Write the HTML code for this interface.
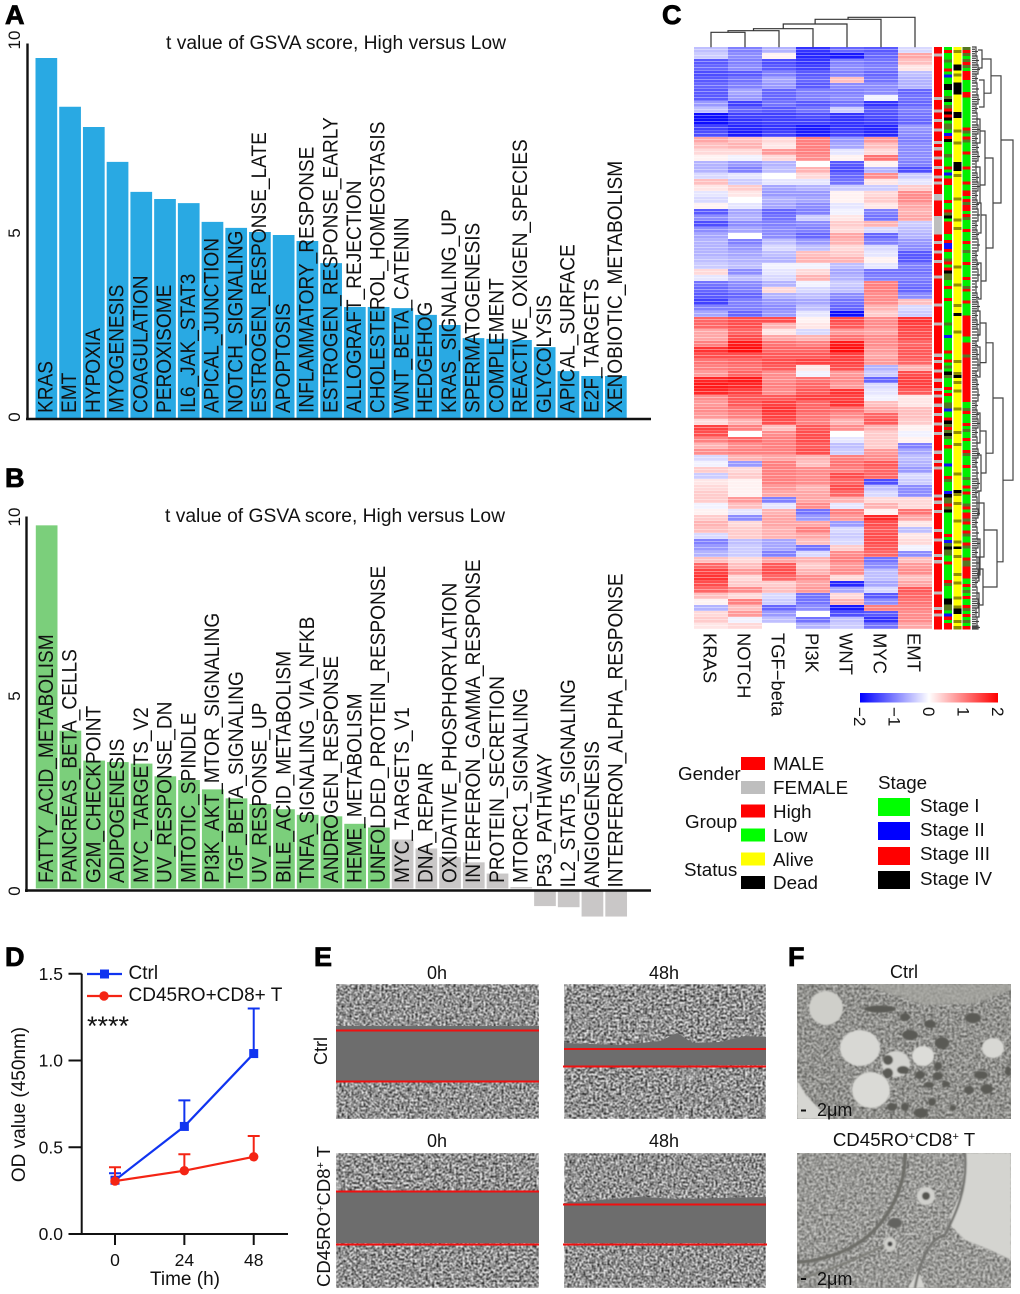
<!DOCTYPE html>
<html lang="en">
<head>
<meta charset="utf-8">
<title>GSVA panels</title>
<style>
html,body{margin:0;padding:0;background:#fff;}
svg{display:block;font-family:"Liberation Sans",sans-serif;}
text{fill:#111;}
.panel{font-size:27px;font-weight:bold;fill:#000;stroke:#000;stroke-width:.8px;}
</style>
</head>
<body>
<svg id="fig" xmlns="http://www.w3.org/2000/svg" width="1020" height="1294" viewBox="0 0 1020 1294">
<defs>
<filter id="cellsA" x="0" y="0" width="100%" height="100%" color-interpolation-filters="sRGB"><feTurbulence type="fractalNoise" baseFrequency="0.5" numOctaves="2" seed="3"/><feColorMatrix type="matrix" values="1.9 0 0 0 -0.38  1.9 0 0 0 -0.38  1.9 0 0 0 -0.38  0 0 0 0 1"/><feGaussianBlur stdDeviation="0.45"/></filter>
<filter id="cellsB" x="0" y="0" width="100%" height="100%" color-interpolation-filters="sRGB"><feTurbulence type="fractalNoise" baseFrequency="0.46" numOctaves="2" seed="11"/><feColorMatrix type="matrix" values="1.9 0 0 0 -0.38  1.9 0 0 0 -0.38  1.9 0 0 0 -0.38  0 0 0 0 1"/><feGaussianBlur stdDeviation="0.45"/></filter>
<filter id="tem" x="0" y="0" width="100%" height="100%" color-interpolation-filters="sRGB"><feTurbulence type="fractalNoise" baseFrequency="0.42" numOctaves="3" seed="5"/><feColorMatrix type="matrix" values="1.8 0 0 0 -0.34  1.8 0 0 0 -0.34  1.8 0 0 0 -0.34  0 0 0 0 1"/><feGaussianBlur stdDeviation="0.5"/></filter>
<filter id="soft" x="-5%" y="-5%" width="110%" height="110%"><feGaussianBlur stdDeviation="0.8"/></filter>
<linearGradient id="cbar" x1="0" x2="1" y1="0" y2="0"><stop offset="0" stop-color="#0000ff"/><stop offset=".48" stop-color="#f4f4ff"/><stop offset=".5" stop-color="#fff"/><stop offset=".52" stop-color="#fff4f4"/><stop offset="1" stop-color="#ff0000"/></linearGradient>
<pattern id="stripes" width="10" height="6" patternUnits="userSpaceOnUse"><rect y="1" width="10" height="1" fill="#fff" opacity=".38"/><rect y="4" width="10" height="1" fill="#fff" opacity=".22"/></pattern>
<clipPath id="clipF1"><rect x="797" y="984" width="214" height="135"/></clipPath>
<clipPath id="clipF2"><rect x="797" y="1153" width="214" height="135"/></clipPath>
</defs>

<!-- Panel letters -->
<text class="panel" x="5" y="24">A</text>
<text class="panel" x="5" y="487">B</text>
<text class="panel" x="662" y="24">C</text>
<text class="panel" x="5" y="966">D</text>
<text class="panel" x="314" y="966">E</text>
<text class="panel" x="788" y="966">F</text>

<!-- Panel A static -->
<g id="barsA"></g>
<line x1="27.5" y1="43.5" x2="27.5" y2="420" stroke="#111" stroke-width="2.4"/>
<line x1="26" y1="419" x2="651" y2="419" stroke="#111" stroke-width="2.4"/>
<text x="166" y="49" font-size="19" textLength="340" lengthAdjust="spacingAndGlyphs">t value of GSVA score, High versus Low</text>

<!-- Panel B static -->
<g id="barsB"></g>
<line x1="26.5" y1="516.5" x2="26.5" y2="892" stroke="#111" stroke-width="2.4"/>
<line x1="25" y1="890.5" x2="651" y2="890.5" stroke="#111" stroke-width="2.4"/>
<text x="165" y="522" font-size="19" textLength="340" lengthAdjust="spacingAndGlyphs">t value of GSVA score, High versus Low</text>

<!-- Panel C -->
<g id="heat" shape-rendering="crispEdges"></g>
<rect x="694" y="47" width="238" height="582" fill="url(#stripes)"/>
<g id="annot" shape-rendering="crispEdges"></g>
<g id="dendTop" fill="none" stroke="#333" stroke-width="1.2"></g>
<g id="dendRow" fill="none" stroke="#444" stroke-width="1.2"></g>
<g id="heatCols"></g>

<rect x="860" y="693" width="138" height="9.5" fill="url(#cbar)"/>
<g id="cbarTicks"></g>

<g font-size="18.8">
<text x="678" y="780">Gender</text>
<text x="685" y="828">Group</text>
<text x="684" y="876">Status</text>
<rect x="741" y="757" width="24" height="13" fill="#ff0000"/>
<text x="773" y="770">MALE</text>
<rect x="741" y="781" width="24" height="13" fill="#bebebe"/>
<text x="773" y="794">FEMALE</text>
<rect x="741" y="804.5" width="24" height="13" fill="#ff0000"/>
<text x="773" y="818">High</text>
<rect x="741" y="828.5" width="24" height="13" fill="#00ff00"/>
<text x="773" y="842">Low</text>
<rect x="741" y="852.5" width="24" height="13" fill="#ffff00"/>
<text x="773" y="866">Alive</text>
<rect x="741" y="876" width="24" height="13" fill="#000"/>
<text x="773" y="889">Dead</text>
<text x="878" y="789">Stage</text>
<rect x="878" y="798" width="32" height="18" fill="#00ff00"/>
<text x="920" y="812">Stage I</text>
<rect x="878" y="822" width="32" height="18" fill="#0000ff"/>
<text x="920" y="836">Stage II</text>
<rect x="878" y="847" width="32" height="18" fill="#ff0000"/>
<text x="920" y="860">Stage III</text>
<rect x="878" y="871" width="32" height="18" fill="#000"/>
<text x="920" y="885">Stage IV</text>
</g>

<!-- Panel D -->
<g id="lineChart"></g>
<text transform="rotate(-90 25 1104.5)" x="25" y="1104.5" font-size="19" text-anchor="middle">OD value (450nm)</text>
<text x="185" y="1285" font-size="19" text-anchor="middle">Time (h)</text>
<text x="87" y="1035" font-size="27">****</text>

<!-- Panel E -->
<g>
<text x="437" y="979" font-size="18" text-anchor="middle">0h</text>
<text x="664" y="979" font-size="18" text-anchor="middle">48h</text>
<text x="437" y="1147" font-size="18" text-anchor="middle">0h</text>
<text x="664" y="1147" font-size="18" text-anchor="middle">48h</text>
<text transform="rotate(-90 327 1051)" x="327" y="1051" font-size="18" text-anchor="middle">Ctrl</text>
<text transform="rotate(-90 330 1287)" x="330" y="1287" font-size="18.5">CD45RO<tspan dy="-6" font-size="11">+</tspan><tspan dy="6">CD8</tspan><tspan dy="-6" font-size="11">+</tspan><tspan dy="6"> T</tspan></text>

<g>
<rect x="336" y="984" width="203" height="135" filter="url(#cellsA)"/>
<rect x="336" y="1026" width="203" height="56" fill="#6d6d6d"/>
<line x1="336" y1="1030.5" x2="539" y2="1030.5" stroke="#f01010" stroke-width="2"/>
<line x1="336" y1="1081.5" x2="539" y2="1081.5" stroke="#f01010" stroke-width="2"/>
</g>
<g>
<rect x="564" y="984" width="202" height="135" filter="url(#cellsB)"/>
<polygon points="564,1043 620,1045 660,1041 677,1033 693,1043 720,1042 745,1036 766,1037 766,1065 564,1066" fill="#6d6d6d"/>
<line x1="564" y1="1049" x2="766" y2="1049" stroke="#f01010" stroke-width="2"/>
<line x1="563" y1="1066.5" x2="766" y2="1066.5" stroke="#f01010" stroke-width="2"/>
</g>
<g>
<rect x="336" y="1153" width="203" height="135" filter="url(#cellsB)"/>
<rect x="336" y="1191" width="203" height="52" fill="#6d6d6d"/>
<line x1="336" y1="1191.5" x2="539" y2="1191.5" stroke="#f01010" stroke-width="2"/>
<line x1="336" y1="1244.5" x2="539" y2="1244.5" stroke="#f01010" stroke-width="2"/>
</g>
<g>
<rect x="564" y="1153" width="202" height="135" filter="url(#cellsA)"/>
<polygon points="564,1203 600,1200 640,1197 680,1199 720,1198 766,1197 766,1243 564,1243" fill="#6d6d6d"/>
<line x1="563" y1="1204.5" x2="766" y2="1204.5" stroke="#f01010" stroke-width="2"/>
<line x1="563" y1="1244.5" x2="767" y2="1244.5" stroke="#f01010" stroke-width="2"/>
</g>
</g>

<!-- Panel F -->
<g>
<text x="904" y="978" font-size="18" text-anchor="middle">Ctrl</text>
<text x="904" y="1146" font-size="18.7" text-anchor="middle">CD45RO<tspan dy="-6" font-size="11">+</tspan><tspan dy="6">CD8</tspan><tspan dy="-6" font-size="11">+</tspan><tspan dy="6"> T</tspan></text>

<g clip-path="url(#clipF1)">
<rect x="797" y="984" width="214" height="135" fill="#96968f"/>
<rect x="797" y="984" width="214" height="135" filter="url(#tem)" opacity=".5"/>
<g filter="url(#soft)">
<polygon points="860,984 1011,984 1011,990 975,1003 925,1005 885,992" fill="#a8a8a2" opacity=".7"/>
<polygon points="797,1080 806,1095 825,1115 830,1119 797,1119" fill="#d6d6d2"/>
<ellipse cx="826" cy="1008" rx="17" ry="17" fill="#cfcfca"/>
<ellipse cx="860" cy="1048" rx="20" ry="18" fill="#d8d8d4"/>
<ellipse cx="871" cy="1090" rx="19" ry="18" fill="#dadad6"/>
<ellipse cx="923" cy="1056" rx="11" ry="10" fill="#dcdcd8"/>
<ellipse cx="993" cy="1048" rx="11" ry="10" fill="#d8d8d4"/>
<ellipse cx="896" cy="1064" rx="14" ry="13" fill="#d4d4d0"/>
<g fill="#5a5a55">
<ellipse cx="880" cy="1009" rx="16" ry="3.5"/><ellipse cx="905" cy="1017" rx="5" ry="4"/><ellipse cx="910" cy="1035" rx="8" ry="5"/><ellipse cx="930" cy="1024" rx="6" ry="4"/><ellipse cx="973" cy="1018" rx="8" ry="5"/><ellipse cx="942" cy="1043" rx="7" ry="6"/><ellipse cx="888" cy="1060" rx="5" ry="5"/><ellipse cx="888" cy="1073" rx="5" ry="5"/><ellipse cx="903" cy="1070" rx="6" ry="4"/><ellipse cx="920" cy="1075" rx="5" ry="4"/><ellipse cx="938" cy="1066" rx="4" ry="4"/><ellipse cx="938" cy="1076" rx="5" ry="4"/><ellipse cx="981" cy="1075" rx="7" ry="4"/><ellipse cx="946" cy="1084" rx="4" ry="3"/><ellipse cx="929" cy="1085" rx="5" ry="3"/><ellipse cx="969" cy="1090" rx="5" ry="4"/><ellipse cx="987" cy="1089" rx="6" ry="5"/><ellipse cx="892" cy="1107" rx="5" ry="4"/><ellipse cx="905" cy="1107" rx="4" ry="4"/><ellipse cx="921" cy="1113" rx="7" ry="5"/><ellipse cx="932" cy="1102" rx="4" ry="4"/><ellipse cx="953" cy="1108" rx="3" ry="3"/><ellipse cx="1008" cy="1071" rx="3" ry="5"/>
</g>
</g>
</g>
<rect x="801" y="1109.5" width="5" height="2" fill="#111"/>
<text x="817" y="1116" font-size="18">2μm</text>

<g clip-path="url(#clipF2)">
<rect x="797" y="1153" width="214" height="135" fill="#a6a6a0"/>
<rect x="797" y="1153" width="214" height="135" filter="url(#tem)" opacity=".5"/>
<g filter="url(#soft)">
<polygon points="965,1153 1011,1153 1011,1260 990,1250 965,1240 950,1225 951,1215 962,1190" fill="#d4d4d0"/>
<polygon points="908,1288 918,1270 925,1288" fill="#d4d4d0"/>
<path d="M905,1153 C906,1190 885,1230 850,1248 C830,1258 810,1262 797,1262" fill="none" stroke="#6d6d68" stroke-width="3.5"/>
<path d="M965,1153 C968,1190 955,1215 945,1235 C930,1238 920,1260 915,1288" fill="none" stroke="#737370" stroke-width="2.5"/>
<path d="M797,1280 C830,1270 860,1258 885,1245" fill="none" stroke="#7a7a74" stroke-width="2"/>
<ellipse cx="926" cy="1196" rx="9" ry="9" fill="#d0d0cc"/><ellipse cx="926" cy="1196" rx="4" ry="4" fill="#55554f"/>
<ellipse cx="895" cy="1223" rx="7" ry="5" fill="#646460"/>
<ellipse cx="890" cy="1244" rx="6" ry="7" fill="#cfcfca"/><ellipse cx="890" cy="1244" rx="2.5" ry="2.5" fill="#444"/>
</g>
</g>
<rect x="801" y="1278" width="5" height="2" fill="#111"/>
<text x="817" y="1285" font-size="18">2μm</text>
</g>

<script>
// ---------- Panel A data ----------
const aCategories = ["KRAS","EMT","HYPOXIA","MYOGENESIS","COAGULATION","PEROXISOME","IL6_JAK_STAT3","APICAL_JUNCTION","NOTCH_SIGNALING","ESTROGEN_RESPONSE_LATE","APOPTOSIS","INFLAMMATORY_RESPONSE","ESTROGEN_RESPONSE_EARLY","ALLOGRAFT_REJECTION","CHOLESTEROL_HOMEOSTASIS","WNT_BETA_CATENIN","HEDGEHOG","KRAS_SIGNALING_UP","SPERMATOGENESIS","COMPLEMENT","REACTIVE_OXIGEN_SPECIES","GLYCOLYSIS","APICAL_SURFACE","E2F_TARGETS","XENOBIOTIC_METABOLISM"];
const aValues = [9.6,8.3,7.76,6.83,6.03,5.84,5.73,5.23,5.07,4.96,4.88,4.72,4.13,2.96,2.96,2.93,2.75,2.48,2.13,2.11,2.08,1.89,1.25,1.12,1.12];
const aTicks = [0,5,10];
// ---------- Panel B data ----------
const bCategories = ["FATTY_ACID_METABOLISM","PANCREAS_BETA_CELLS","G2M_CHECKPOINT","ADIPOGENESIS","MYC_TARGETS_V2","UV_RESPONSE_DN","MITOTIC_SPINDLE","PI3K_AKT_MTOR_SIGNALING","TGF_BETA_SIGNALING","UV_RESPONSE_UP","BILE_ACID_METABOLISM","TNFA_SIGNALING_VIA_NFKB","ANDROGEN_RESPONSE","HEME_METABOLISM","UNFOLDED_PROTEIN_RESPONSE","MYC_TARGETS_V1","DNA_REPAIR","OXIDATIVE_PHOSPHORYLATION","INTERFERON_GAMMA_RESPONSE","PROTEIN_SECRETION","MTORC1_SIGNALING","P53_PATHWAY","IL2_STAT5_SIGNALING","ANGIOGENESIS","INTERFERON_ALPHA_RESPONSE"];
const bValues = [9.71,4.22,3.42,3.38,3.34,3.0,2.9,2.65,2.41,2.26,2.12,1.97,1.93,1.73,1.63,1.31,1.07,.84,.7,.4,.04,-.47,-.5,-.75,-.75];
const bTicks = [0,5,10];
// ---------- Panel C data ----------
const heatColumns = ["KRAS","NOTCH","TGF\u2212beta","PI3K","WNT","MYC","EMT"];
const heatRows = [
[-.5,-1,-.6,-1.6,-1.2,-1.3,-.3],[-.4,-.9,.1,-1.7,-1.8,-1.2,.7],[-1.3,-1,-1.4,-1.6,-1,-1.1,.5],[-1.2,-.9,-1.3,-1.5,-.9,-1,.2],
[-1.4,-1.3,-1,-1.3,-1,-1.2,-.5],[-1.3,-1.1,-.7,-1.2,.5,-1.1,-.6],[-1.2,-1,-.8,-1.3,-.9,-.9,-.6],[-1.3,-.7,-1.2,-1,-1,-.9,-1.2],
[-1.3,-.8,-1.2,-1,-.9,-.1,-1.1],[-.8,-1.5,-1.1,-1.3,-1.1,-1.6,-1.2],[-.5,-1.2,-1.3,-1.1,-.4,-1.3,-1],[-1.9,-1.5,-1.5,-1.4,-1.6,-1.4,-1.1],
[-1.9,-1.6,-1.5,-1.5,-1.6,-1.5,-1.2],[-1.5,-1.7,-1.6,-1.8,-1.6,-1.7,-.8],[-1.4,-1.8,-1.5,-1.8,-1.5,-1.7,-.9],[.7,.5,.3,1,-.8,.8,-1],
[.5,.6,.2,1,-.7,.5,-.9],[.3,.3,.8,1,-.2,.3,-.9],[.1,-.1,.3,.9,.1,1.1,-.9],[-.6,-.8,-.6,0,-1.3,.1,-1],
[-.6,-1,-.5,.6,-1.4,-.6,-1.4],[-.3,-.2,0,.3,-1.2,.9,-.4],[.5,-.4,-.2,-.2,-1.1,.2,-.2],[.2,.4,-.7,-.6,-.4,-.4,.4],
[-.2,.2,-.8,-.8,.1,.3,.9],[-.3,0,-.6,-.7,.1,.4,.9],[.1,-.2,-.7,-.9,-.2,.2,.7],[-1.3,-.7,-1.2,-1,-.1,-1,.6],
[-.9,-.6,-1.1,-.4,.2,-1.1,.7],[-1.4,-.9,-1,-.9,.4,.6,-.4],[-.9,-.7,-.9,-1,.3,-.3,-.5],[-.7,0,-.9,-1.2,.7,-1.2,-.6],
[-.6,-1,-.5,-.8,.6,-1,-.8],[-.6,-.8,-.3,-.5,.3,-.3,-.9],[-.6,-.7,-.5,.5,.4,-.2,-1.3],[-.5,-.6,-.6,.6,.6,.1,-1.3],
[-.4,-.5,-.1,-.1,-.5,-.2,-1],[.3,-.9,-.2,.3,-.7,-1.1,-1.1],[-.2,-.5,-.3,.6,-.6,-1,-1],[-1.1,-.9,-.6,-.1,-.4,1,-1.1],
[-1.2,-1,.3,-.3,-.5,1,-1.2],[-1.3,-1.2,-.6,-.5,-.9,.9,-.9],[-1.5,-1,-.8,-.7,-1.1,.9,.5],[-1,-1,-.9,-.5,-1.2,.6,-.3],
[-.7,-1.2,-.8,-.2,-1.9,.4,-.4],[1.2,1.4,1.4,.1,1.4,.9,1.6],[1.2,1.4,.6,.2,1.3,.9,1.5],[.7,1.2,.2,-.3,.8,.7,1.4],
[.7,1.4,.7,.6,1.1,.9,1.4],[1,1.8,1.1,1,1.8,.9,1.2],[1.6,1.9,1.2,1.2,1.9,.8,1.3],[1.4,1.4,1.3,1.3,1.5,.7,1.3],
[1.1,1.2,1.4,1.5,1.5,.8,1.2],[1,1.1,1.3,.2,1.4,-.6,.6],[.8,1.2,.9,-.1,.8,-.4,1.4],[1.7,1.8,.9,1.1,.9,-1.2,1.5],
[1.8,1.7,1,1.2,.8,-.3,1.5],[1.7,1.5,.9,1.3,1.6,-.2,1.3],[.9,1.3,1.3,1.5,1.5,-.1,.2],[.8,1.3,1.5,1.2,1.6,.5,.2],
[.9,1.1,1.6,1.2,1.1,.7,.5],[.8,1,1.5,1.1,.9,1.2,.5],[.3,.6,1.4,1,.6,1.3,.4],[1.5,1,.5,1.3,.9,.6,.1],
[1.4,0,.9,1.4,0,.4,-.1],[1,1.2,1,1.4,-.2,.4,.1],[.6,.9,1,1.3,-.5,.4,-1],[.9,1,1,1.4,-.4,.8,-.7],
[-.3,.6,.7,.6,1,.9,-.5],[-.1,-.8,1,.5,1.1,1.3,-.6],[.4,.3,1,.9,1,1.2,-.8],[-.4,.4,1,.9,1.4,1.2,-.3],
[.2,.1,1,.9,1.2,-1.4,-.4],[.3,.1,.8,.6,1.4,-.5,-.9],[.4,.1,.7,.7,1.2,-.3,-.9],[.4,.8,-1,.7,.6,.3,.3],
[-.1,.5,-.2,.9,-.2,.6,.3],[.1,-.2,.6,-1.1,1,.1,1.1],[.4,-.9,.7,-.8,.8,1.7,.7],[.6,.3,.7,.7,-.8,1.4,.2],
[.5,.4,.6,1,-.3,1.3,-.5],[-.3,.4,.6,.7,-.4,1.4,.2],[-1,-.5,-.7,.5,-.3,1.4,.3],[-.8,-.4,-.7,-1.1,.4,1.3,-.1],
[-.6,-.4,-1,-.3,.9,1.2,-.9],[.5,.3,.7,.6,1,-1.1,.5],[1.2,.5,1.3,.4,.8,-.9,.8],[1.5,.8,1.4,.6,.9,-.5,.9],
[1.6,.3,1.2,.9,.3,-.5,.5],[1.4,.4,.4,.7,-1.7,-.7,.7],[1.2,.9,.5,.8,-.7,-.3,1.3],[.5,.3,-.3,-1.1,.3,-1.3,1.2],
[.1,1,-.4,-1.1,.6,-.9,1.1],[-.6,.5,-1.2,-.9,-1.8,1,1],[.3,.8,-.8,0,-1.4,-1.3,.9],[.4,-.1,-.5,-1.1,-.5,-1.6,.9],
[.2,.3,0,-.6,-.4,-1.1,.7]
];
const cbarTicks = ["\u22122","\u22121","0","1","2"];
const annotGender = "RRGRRRRRRRRRRRRRGRRRGRRGRRGRRRGRGRRGRRGRRGRGRRRGGRRRRRGGGGGGRRGRRGRRGRRRRGRRRRRRRRGRRRRRGRRRRRRRRRGRGRRGRRGRRGRGRRGRRGRRGRRGRRRRRGRRGRGRRRRRRRRGRGRRGRRRRRGRRGRRRRGRGRRRRRRRRRGRRRRGRGRRRR";
const annotGroup = "LRLLDLLRLBLLKKLLDKLDRKRKLDDLBRKLLLLDLLLRLBLRRLLLLLRLLRDKLRRRRLLRBBRLLDRLRKDDLLRLLLRLLLLLLLDLLLBLLLLRLLRLDLKDLLLRLRLLDDBLLRKDRDKDLLRLLLLLBLLLRDLLLBKDDRDKLLLLLLLRLBDKDDLLRLLLLLRDLLLLKKDDLBRLRR";
const annotStatus = "YOYYYYKKYOYYKKKKYYYYYYKKYYYYOYYYOYYYYYYKKKYOYYYYYYYOYYYYYYOYYOYYYYYYYYYYYYOYYYYYOYYYYYYOYYKYYYYYOYYYYYYYYYOYYYOKYOYYOYYYYYOYYYYYYYOYYYOYYYYYYYYYOYYYYYKOYYOYYYYYOYYYYYYOYKYYOYYYYYOYYOYYYYOYYOKKYYOYO";
const annotStage = "DRDLDRDLRRRLLLLRRLLLLLLLLLLRDLRDLLLRLLLLRLLLLRLLRRLRDRRLRDLLLRLLLRLLDLLLRLLLLRLLDRLLLRLLLLRRRRRRRLLRRRRDRRRRRRRRRRRRRRRLLDRLLLRLDLLRLLLRDLLLRLLLDLLRLRLLLDRLRRDRLLRDLLRDLLLRDDRRRRLLRLDLRLLRDLRLDLR";
const annotColors = {R:"#ff0000",G:"#bebebe",L:"#00f000",B:"#1010ff",K:"#000000",Y:"#ffff00",D:"#557722",O:"#8f8f00"};
const colMerges = [[97,0,1],[92,7,2],[86,8,3],[72,9,4],[58,10,5],[52,11,6]];
const rowMerges = [
[41,15.5,72.2,29,31],[29,4.8,26,19,21],[31,58.5,85.8,21,25],[19,2,7.7,10,12],[21,18.5,33.5,13,14],[21,49.3,67.7,14,14],[25,80.5,90,12,11],
[10,.5,3.5,6,6],[12,5.5,10,7,7],[13,14,23,8,8],[14,28,39,9,9],[14,46,52.6,8,8],[14,64,71,8,9],[12,76,85,7,8],[11,87,93,7,7],
[8,12,16,5,5],[8,20,26,5,5],[9,26,31,5,6],[9,36,42,5,6],[8,44,48,5,5],[8,50,55,5,5],[8,61,66,5,6],[9,68,74,5,6],[7,74,78,5,5],[8,82,88,5,5],[7,85,89,4,5],[7,91,95,5,5]
];
const rowLeafClusters = [0,1.5,3,4.5,6,8,9.5,11,13,14.5,16,17.5,19,21,22.5,24,25.5,27,29,30.5,32,34,35.5,37,39,41,42.5,44,45.5,47,49,50.5,52,54,55.5,57,59,60.5,62,63.5,65,67,68.5,70,72,73.5,75,77,78.5,80,82,83.5,85,87,88.5,90,92,93.5,95,96.5];
// ---------- Panel D data ----------
const timePoints = [0,24,48];
const ctrlMeans = [.31,.62,1.04];
const ctrlErrors = [.04,.15,.26];
const treatedMeans = [.305,.365,.445];
const treatedErrors = [.08,.095,.12];
const odTicks = [0,.5,1,1.5];

const NS = "http://www.w3.org/2000/svg";
function add(parent, tag, attrs) {
  const el = document.createElementNS(NS, tag);
  for (const k in attrs) el.setAttribute(k, attrs[k]);
  parent.appendChild(el);
  return el;
}
const $ = id => document.getElementById(id);

// ---------- Bars ----------
const barX = i => 35.5 + i * 23.73;
const aY = v => 418 - v * 37.5;
const bY = v => 888.5 - v * 37.4;

aValues.forEach((v, i) => {
  const bar = add($("barsA"), "rect", {x: barX(i), y: aY(v), width: 21.7, height: aY(0) - aY(v), fill: "#29a9e3"});
  
  
});
aCategories.forEach((c, i) => {
  const x = barX(i) + 17, y = 413;
  const t = add($("barsA"), "text", {x: 0, y: 0, "font-size": 21, transform: `translate(${x} ${y}) rotate(-90) scale(.91 1)`});
  t.textContent = c;
  
  
});
aTicks.forEach(v => {
  const yy = v === 10 ? 40 : v === 5 ? 233 : 417;
  const t = add($("barsA"), "text", {x: 20, y: yy, "font-size": 17, "text-anchor": "middle", transform: `rotate(-90 20 ${yy})`});
  t.textContent = v;
  
  
});

bValues.forEach((v, i) => {
  const top = v >= 0 ? bY(v) : bY(0) + 3;
  const h = v >= 0 ? bY(0) - bY(v) : bY(v) - bY(0) - 3;
  const bar = add($("barsB"), "rect", {x: barX(i) + .3, y: top, width: 21.7, height: h, fill: v > 1.5 ? "#7bcf7b" : "#c9c7c7"});
  
  
});
bCategories.forEach((c, i) => {
  const x = barX(i) + 17.5, y = bValues[i] < 0 ? 887.5 : 883;
  const t = add($("barsB"), "text", {x: 0, y: 0, "font-size": 21, transform: `translate(${x} ${y}) rotate(-90) scale(.91 1)`});
  t.textContent = c;
  
  
});
bTicks.forEach(v => {
  const yy = v === 0 ? 891 : v === 10 ? 517 : 696;
  const t = add($("barsB"), "text", {x: 20, y: yy, "font-size": 17, "text-anchor": "middle", transform: `rotate(-90 20 ${yy})`});
  t.textContent = v;
  
  
});

// ---------- Heatmap ----------
const heatX = c => 694 + c * 34;
const heatY = r => 47 + r * 6;
function heatColor(v) {
  const a = Math.min(1, Math.abs(v) / 2);
  const m = Math.round(255 * (1 - a));
  return v < 0 ? `rgb(${m},${m},255)` : `rgb(255,${m},${m})`;
}
heatRows.forEach((row, r) => {
  row.forEach((v, c) => {
    const cell = add($("heat"), "rect", {x: heatX(c), y: heatY(r), width: 34, height: 6, fill: heatColor(v)});
    
    
  });
});
heatColumns.forEach((c, i) => {
  const x = heatX(i) + 9.5, y = 633;
  const t = add($("heatCols"), "text", {x: x, y: y, "font-size": 18.4, transform: `rotate(90 ${x} ${y})`});
  t.textContent = c;
  
  
});
cbarTicks.forEach((c, i) => {
  const x = 854 + i * 34.5, y = 707;
  const t = add($("cbarTicks"), "text", {x: x, y: y, "font-size": 17, transform: `rotate(90 ${x} ${y})`});
  t.textContent = c;
  
  
});

// ---------- Annotation strips ----------
[[934, annotGender], [944, annotGroup], [953.3, annotStatus], [962.7, annotStage]].forEach(([x, codes]) => {
  const h = 582 / codes.length;
  [...codes].forEach((code, i) => {
    const cell = add($("annot"), "rect", {x: x, y: 47 + i * h, width: 8, height: h + .3, fill: annotColors[code]});
    
    
  });
});

// ---------- Dendrograms ----------
const colCenter = i => heatX(i) + 17;
const colPos = {}, colTop = {};
heatColumns.forEach((c, i) => { colPos[i] = colCenter(i); colTop[i] = 47.3; });
colMerges.forEach((m, k) => {
  const y = m[0] / 3, a = m[1], b = m[2];
  const path = add($("dendTop"), "path", {d: `M${colPos[a]},${colTop[a]}V${y}H${colPos[b]}V${colTop[b]}`});
  
  
  colPos[7 + k] = (colPos[a] + colPos[b]) / 2;
  colTop[7 + k] = y;
});
const rowDx = h => 972 + h;
rowMerges.forEach(m => {
  const p = add($("dendRow"), "path", {d: `M${rowDx(m[3])},${heatY(m[1])}H${rowDx(m[0])}V${heatY(m[2])}H${rowDx(m[4])}`});
  
  
});
rowLeafClusters.forEach((r, i) => {
  const next = rowLeafClusters[i + 1] === undefined ? 97 : rowLeafClusters[i + 1];
  const h = 4 + (i % 3);
  const p = add($("dendRow"), "path", {d: `M${rowDx(0)},${heatY(r)}H${rowDx(h)}V${heatY(next)}H${rowDx(0)}M${rowDx(0)},${heatY((r + next) / 2)}H${rowDx(h + 2)}M${rowDx(0)},${heatY(r + (next - r) / 4)}H${rowDx(h - 1)}M${rowDx(0)},${heatY(r + 3 * (next - r) / 4)}H${rowDx(h - 1)}`});
  
  
});

// ---------- Line chart ----------
const odY = v => 1234 - v * 173.5;
const timeX = t => 115 + t * 2.89;
const lc = $("lineChart");
const axisPath = add(lc, "path", {d: `M81.7,${odY(1.5)}V${odY(0)}M68.5,${odY(0)}H288`, fill: "none", stroke: "#111", "stroke-width": 2});


odTicks.forEach(v => {
  const tick = add(lc, "line", {x1: 68.5, x2: 81.7, y1: odY(v), y2: odY(v), stroke: "#111", "stroke-width": 2});
  
  
  const t = add(lc, "text", {x: 63, y: odY(v) + 6, "font-size": 17.5, "text-anchor": "end"});
  t.textContent = v.toFixed(1);
  
  
});
timePoints.forEach(v => {
  const tick = add(lc, "line", {x1: timeX(v), x2: timeX(v), y1: 1234, y2: 1245, stroke: "#111", "stroke-width": 2});
  
  
  const t = add(lc, "text", {x: timeX(v), y: 1266, "font-size": 17.5, "text-anchor": "middle"});
  t.textContent = v;
  
  
});
function drawSeries(means, errors, color, square) {
  timePoints.forEach((tp, i) => {
    const x = timeX(tp), top = odY(means[i] + errors[i]);
    const e = add(lc, "path", {d: `M${x},${odY(means[i])}V${top}M${x - 6},${top}H${x + 6}`, fill: "none", stroke: color, "stroke-width": 2});
    
    
  });
  const line = add(lc, "polyline", {points: timePoints.map((tp, i) => `${timeX(tp)},${odY(means[i])}`).join(" "), fill: "none", stroke: color, "stroke-width": 2.2});
  
  
  timePoints.forEach((tp, i) => {
    const x = timeX(tp), y = odY(means[i]);
    const m = square
      ? add(lc, "rect", {x: x - 4.5, y: y - 4.5, width: 9, height: 9, fill: color})
      : add(lc, "circle", {cx: x, cy: y, r: 4.7, fill: color});
    
    
  });
}
drawSeries(ctrlMeans, ctrlErrors, "#1034f0", true);
drawSeries(treatedMeans, treatedErrors, "#f42414", false);

[["Ctrl", "#1034f0", 974, true], ["CD45RO+CD8+ T", "#f42414", 996, false]].forEach(([label, color, y, square]) => {
  const l = add(lc, "line", {x1: 87, x2: 122, y1: y, y2: y, stroke: color, "stroke-width": 2.2});
  
  
  const m = square
    ? add(lc, "rect", {x: 100, y: y - 4.5, width: 9, height: 9, fill: color})
    : add(lc, "circle", {cx: 104, cy: y, r: 4.7, fill: color});
  
  
  const t = add(lc, "text", {x: 128.5, y: y + 5, "font-size": 19});
  t.textContent = label;
  
  
});
</script>
</svg>
</body>
</html>
